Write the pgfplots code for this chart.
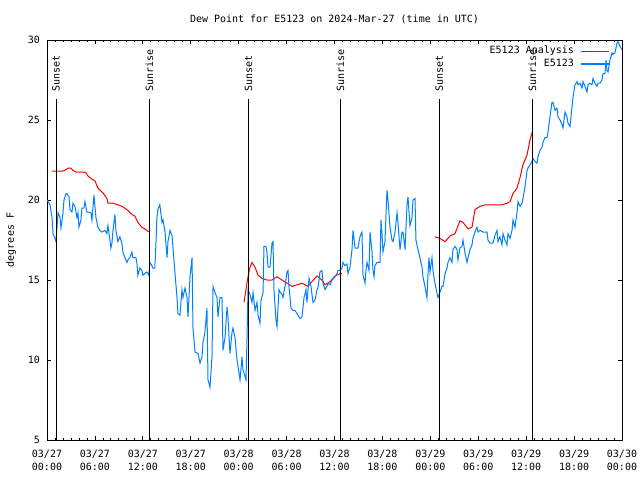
\documentclass[border=0pt]{standalone}
\usepackage{fontspec}
\setmainfont{DejaVu Sans Mono}
\usepackage{pgfplots}
\pgfplotsset{compat=1.18}
\definecolor{dewred}{RGB}{255,0,0}
\definecolor{dewblue}{RGB}{0,128,255}
\begin{document}
\fontsize{10}{13}\selectfont
\begin{tikzpicture}
\useasboundingbox (0,0) rectangle (640pt,480pt);
\begin{axis}[
 at={(47pt,40pt)}, anchor=south west,
 scale only axis, width=575pt, height=400pt,
 xmin=0, xmax=72, ymin=5, ymax=30,
 xtick={0,6,...,72},
 xticklabels={03/27\\00:00,03/27\\06:00,03/27\\12:00,03/27\\18:00,03/28\\00:00,03/28\\06:00,03/28\\12:00,03/28\\18:00,03/29\\00:00,03/29\\06:00,03/29\\12:00,03/29\\18:00,03/30\\00:00},
 minor x tick num=5,
 ytick={5,10,...,30},
 /pgf/number format/assume math mode=true,
 tick align=inside,
 major tick length=4pt, minor tick length=2pt,
 tick style={black, line width=0.8pt},
 axis line style={black, line width=0.8pt},
 xticklabel style={align=center, inner sep=0pt, yshift=-10pt, font=\fontsize{10}{13}\selectfont},
 yticklabel style={inner sep=0pt, xshift=-7pt},
 ylabel={degrees F},
 ylabel style={at={(axis description cs:-0.0625,0.5)}, anchor=center, inner sep=0pt},
 title={Dew Point for E5123 on 2024-Mar-27 (time in UTC)},
 title style={at={(axis description cs:0.5,1)}, anchor=center, yshift=15pt, inner sep=0pt},
 legend style={draw=none, fill=none, at={(rel axis cs:1,1)}, anchor=north east, xshift=-12pt, yshift=-6pt, inner sep=0pt, outer sep=0pt, row sep=3pt, column sep=7pt, nodes={inner sep=0pt, text height=7.5pt, text depth=2.5pt}},
 legend cell align=right,
 legend plot pos=right,
 legend image code/.code={\draw[#1] (0pt,0pt) -- (28pt,0pt);},
]
% Analysis (red), three segments
\addplot[dewred, line width=1pt] table {
x y
0.63 21.8
1.63 21.8
2.00 21.8
2.38 21.9
2.63 22.0
3.00 22.0
3.25 21.85
3.63 21.75
4.13 21.75
4.50 21.75
4.88 21.7
5.13 21.5
5.63 21.3
6.00 21.2
6.38 20.75
6.88 20.5
7.00 20.45
7.50 20.1
7.63 19.8
8.25 19.8
8.88 19.7
9.38 19.6
10.0 19.4
10.63 19.1
11.0 19.0
11.38 18.6
11.88 18.3
12.25 18.2
12.63 18.05
12.88 18.0
};
\addlegendentry{E5123 Analysis}
\addplot[dewred, line width=1pt, forget plot] table {
x y
24.67 13.6
24.92 14.4
25.17 15.2
25.42 15.8
25.67 16.1
26.05 15.8
26.42 15.3
26.93 15.1
27.55 15.0
28.17 15.0
28.80 15.2
29.43 15.0
30.05 14.8
30.68 14.6
31.30 14.7
31.93 14.8
32.68 14.6
33.18 14.9
33.81 15.25
34.43 15.0
34.81 14.7
35.44 14.9
36.06 15.25
36.69 15.4
36.94 15.4
};
\addplot[dewred, line width=1pt, forget plot] table {
x y
48.58 17.7
49.21 17.6
49.84 17.4
50.46 17.75
51.09 17.9
51.71 18.7
52.09 18.6
52.72 18.2
53.22 18.3
53.59 19.4
54.22 19.6
54.84 19.7
56.97 19.7
57.60 19.8
57.98 19.9
58.35 20.4
58.85 20.75
59.23 21.4
59.60 22.2
60.10 22.8
60.48 23.75
60.73 24.2
60.86 24.2
};
% Observations (blue)
\addplot[dewblue, line width=1pt] table {
x y
0.00 20.0
0.13 19.9
0.38 19.7
0.63 18.9
0.75 17.9
1.00 17.6
1.13 17.4
1.38 19.2
1.63 18.9
1.75 18.25
2.00 19.2
2.13 20.0
2.38 20.4
2.50 20.4
2.75 20.2
2.88 19.4
3.13 19.25
3.25 19.8
3.50 19.6
3.75 18.9
3.88 19.2
4.00 18.3
4.25 18.75
4.38 19.5
4.63 19.5
4.75 19.9
5.00 19.25
5.25 19.25
5.50 19.2
5.63 18.75
5.88 20.3
6.13 18.9
6.38 18.3
6.63 18.1
6.88 18.0
7.25 18.1
7.50 17.9
7.63 18.4
7.88 17.5
8.00 17.0
8.13 17.3
8.25 18.0
8.50 19.1
8.63 18.1
8.88 17.4
9.13 17.7
9.38 17.3
9.50 16.75
9.75 16.4
10.00 16.1
10.13 16.25
10.38 16.4
10.63 16.75
10.75 16.4
11.13 16.4
11.25 16.1
11.38 15.3
11.63 15.75
11.88 15.6
12.00 15.3
12.25 15.4
12.50 15.5
12.75 15.3
12.88 16.1
13.13 15.9
13.25 15.75
13.50 15.75
13.63 17.1
13.75 18.75
13.88 19.4
14.13 19.7
14.40 18.6
14.53 18.75
14.78 18.0
15.03 16.4
15.15 17.4
15.40 18.1
15.65 17.8
15.78 17.0
16.03 15.4
16.28 13.9
16.40 12.9
16.65 12.8
16.90 14.4
17.03 13.9
17.28 14.5
17.53 13.9
17.66 12.7
17.91 15.2
18.16 16.4
18.28 12.0
18.53 10.5
18.91 10.4
19.16 9.8
19.41 10.2
19.53 11.1
19.78 11.75
20.03 13.25
20.16 8.75
20.41 8.3
20.66 10.2
20.79 14.6
21.04 14.2
21.29 13.9
21.41 12.7
21.66 13.9
21.91 13.9
22.04 10.6
22.29 11.4
22.54 13.3
22.66 12.7
22.91 10.4
23.16 11.7
23.29 12.0
23.54 11.4
23.79 10.0
23.92 9.6
24.17 8.75
24.42 10.2
24.54 9.4
24.92 8.75
25.04 11.25
25.17 14.4
25.42 14.1
25.67 13.6
25.80 14.2
26.05 13.1
26.30 13.6
26.42 12.8
26.67 12.3
26.80 13.75
27.05 14.2
27.17 17.1
27.42 17.1
27.55 16.7
27.67 15.8
27.92 15.8
28.17 17.3
28.30 17.4
28.42 14.4
28.67 12.5
28.80 12.1
29.05 14.4
29.18 14.25
29.43 14.1
29.55 13.9
29.80 14.6
30.05 15.5
30.18 15.6
30.30 14.6
30.55 13.25
30.80 13.1
31.05 13.1
31.30 12.9
31.43 12.8
31.68 12.6
31.93 12.7
32.06 13.3
32.18 13.9
32.43 14.4
32.56 13.6
32.81 15.1
33.06 14.6
33.18 14.1
33.31 13.6
33.56 13.75
33.81 14.4
33.93 14.5
34.18 15.5
34.43 15.6
34.56 14.8
34.81 14.4
35.06 14.6
35.19 14.8
35.44 14.7
35.69 15.0
36.06 15.2
36.31 15.4
36.44 15.6
36.69 15.6
36.94 15.75
37.06 16.1
37.31 15.9
37.57 16.0
37.69 15.4
37.94 15.8
38.19 16.9
38.32 18.1
38.57 17.0
38.94 17.0
39.19 17.7
39.44 18.0
39.57 15.3
39.82 14.8
39.94 15.6
40.07 16.1
40.32 15.6
40.45 18.0
40.70 16.75
40.82 15.6
40.95 15.2
41.07 15.9
41.32 16.1
41.70 16.1
41.82 18.75
41.95 17.9
42.07 16.75
42.32 17.4
42.57 20.6
42.70 20.0
42.95 18.3
43.20 17.5
43.33 17.4
43.58 18.0
43.83 19.2
43.95 18.6
44.20 16.9
44.45 18.0
44.58 18.0
44.83 16.9
45.08 19.7
45.20 20.2
45.45 18.4
45.70 18.9
45.83 20.0
46.08 20.1
46.20 17.5
46.45 16.9
46.70 16.4
46.96 15.8
47.08 15.2
47.33 14.6
47.58 13.9
47.71 15.4
47.83 16.4
47.96 15.5
48.21 16.4
48.33 15.6
48.58 14.8
48.83 14.2
48.96 13.9
49.21 14.25
49.46 14.6
49.59 14.6
49.84 15.4
50.09 15.75
50.21 16.1
50.46 16.4
50.71 16.1
50.84 16.9
51.09 17.1
51.34 16.9
51.46 16.25
51.71 17.0
51.96 17.1
52.09 17.5
52.34 16.7
52.59 16.1
52.72 16.4
52.97 16.9
53.22 17.2
53.34 17.6
53.59 18.0
53.84 18.3
53.97 18.0
54.22 18.1
54.59 18.0
55.10 18.0
55.22 17.5
55.47 17.3
55.85 17.3
56.10 17.8
56.35 18.1
56.47 17.4
56.72 17.7
56.97 17.2
57.10 17.9
57.35 17.5
57.60 17.2
57.73 17.9
57.98 17.6
58.23 18.1
58.35 18.75
58.60 18.3
58.85 19.2
58.98 19.9
59.23 19.6
59.48 19.8
59.60 20.1
59.85 20.8
60.10 21.8
60.23 22.0
60.73 22.4
60.86 22.6
61.11 22.4
61.36 22.3
61.48 22.7
61.73 23.1
61.98 23.3
62.11 23.6
62.36 23.9
62.61 23.9
62.73 24.2
62.98 25.2
63.23 26.1
63.36 26.1
63.61 25.6
63.86 25.75
63.98 25.2
64.24 25.0
64.49 24.7
64.61 24.5
64.86 25.5
65.11 25.2
65.24 24.8
65.49 24.6
65.74 25.8
65.86 26.4
66.11 27.2
66.37 27.4
66.49 27.2
66.74 27.3
66.99 27.0
67.12 27.4
67.37 27.1
67.62 26.75
67.74 27.2
67.99 27.3
68.24 27.2
68.37 27.6
68.62 27.3
68.87 27.1
69.00 27.3
69.25 27.3
69.50 27.5
69.62 27.9
69.87 27.9
70.00 28.75
70.12 28.1
70.25 28.0
70.50 28.75
70.75 29.2
70.87 29.1
71.12 29.2
71.37 29.8
71.50 29.9
71.75 29.6
72.00 29.4
};
\addlegendentry{E5123}
% Sunrise / sunset markers
\addplot[black, line width=0.9pt, forget plot] coordinates {(1.13,5) (1.13,26.3)};
\addplot[black, line width=0.9pt, forget plot] coordinates {(12.81,5) (12.81,26.3)};
\addplot[black, line width=0.9pt, forget plot] coordinates {(25.24,5) (25.24,26.3)};
\addplot[black, line width=0.9pt, forget plot] coordinates {(36.73,5) (36.73,26.3)};
\addplot[black, line width=0.9pt, forget plot] coordinates {(49.12,5) (49.12,26.3)};
\addplot[black, line width=0.9pt, forget plot] coordinates {(60.77,5) (60.77,26.3)};
\node[rotate=90, anchor=west, inner sep=0pt] at (axis cs:1.13,26.74) {Sunset};
\node[rotate=90, anchor=west, inner sep=0pt] at (axis cs:12.81,26.74) {Sunrise};
\node[rotate=90, anchor=west, inner sep=0pt] at (axis cs:25.24,26.74) {Sunset};
\node[rotate=90, anchor=west, inner sep=0pt] at (axis cs:36.73,26.74) {Sunrise};
\node[rotate=90, anchor=west, inner sep=0pt] at (axis cs:49.12,26.74) {Sunset};
\node[rotate=90, anchor=west, inner sep=0pt] at (axis cs:60.77,26.74) {Sunrise};
\end{axis}
\end{tikzpicture}
\end{document}
